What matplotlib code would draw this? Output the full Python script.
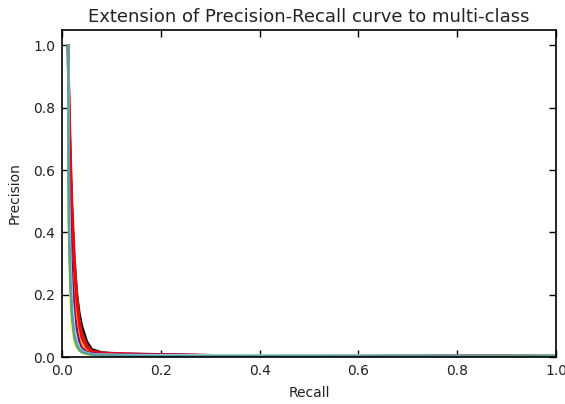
import matplotlib
matplotlib.use("Agg")
import matplotlib.pyplot as plt

# shared recall grid
recall = [0.012, 0.014, 0.017, 0.02, 0.025, 0.03, 0.035, 0.04, 0.05,
          0.06, 0.08, 0.12, 0.2, 0.35, 0.6, 1.0]

# precision per class, same length as recall
precision = {
    'yellow':   [1.0, 0.35, 0.18, 0.10, 0.05, 0.03, 0.02, 0.015, 0.010, 0.008, 0.006, 0.005, 0.004, 0.004, 0.003, 0.003],
    'lime':     [1.0, 0.45, 0.25, 0.14, 0.07, 0.04, 0.025, 0.018, 0.012, 0.009, 0.007, 0.005, 0.004, 0.004, 0.003, 0.003],
    'gray':     [1.0, 0.50, 0.28, 0.17, 0.08, 0.045, 0.03, 0.02, 0.013, 0.01, 0.008, 0.006, 0.005, 0.004, 0.003, 0.003],
    'magenta':  [1.0, 0.60, 0.38, 0.25, 0.13, 0.07, 0.04, 0.025, 0.015, 0.012, 0.01, 0.008, 0.007, 0.005, 0.004, 0.003],
    'blue':     [1.0, 0.55, 0.35, 0.22, 0.12, 0.06, 0.035, 0.022, 0.014, 0.01, 0.008, 0.006, 0.005, 0.004, 0.003, 0.003],
    'pink':     [1.0, 0.70, 0.50, 0.35, 0.20, 0.11, 0.06, 0.035, 0.02, 0.014, 0.01, 0.008, 0.006, 0.005, 0.004, 0.003],
    'orange':   [1.0, 0.75, 0.55, 0.40, 0.22, 0.12, 0.07, 0.04, 0.022, 0.015, 0.011, 0.008, 0.006, 0.005, 0.004, 0.003],
    'black':    [1.0, 0.80, 0.60, 0.45, 0.30, 0.20, 0.14, 0.10, 0.05, 0.025, 0.015, 0.01, 0.007, 0.005, 0.004, 0.003],
    'brown':    [1.0, 0.85, 0.65, 0.50, 0.32, 0.20, 0.12, 0.08, 0.04, 0.02, 0.014, 0.012, 0.009, 0.005, 0.004, 0.003],
    'red':      [1.0, 0.82, 0.62, 0.47, 0.28, 0.17, 0.10, 0.06, 0.03, 0.018, 0.013, 0.011, 0.008, 0.005, 0.004, 0.003],
    'purple':   [1.0, 0.60, 0.40, 0.27, 0.14, 0.08, 0.045, 0.028, 0.016, 0.012, 0.01, 0.009, 0.008, 0.005, 0.004, 0.003],
    'mediumseagreen': [1.0, 0.40, 0.22, 0.13, 0.06, 0.035, 0.022, 0.016, 0.011, 0.009, 0.007, 0.006, 0.005, 0.005, 0.004, 0.004],
    'paleturquoise':  [1.0, 0.50, 0.30, 0.18, 0.09, 0.05, 0.03, 0.02, 0.013, 0.01, 0.008, 0.007, 0.006, 0.006, 0.005, 0.002],
    'cadetblue':      [1.0, 0.42, 0.24, 0.14, 0.07, 0.04, 0.025, 0.017, 0.012, 0.009, 0.007, 0.005, 0.004, 0.004, 0.003, 0.003],
}

fig = plt.figure(figsize=(5.65, 4.04), dpi=100)
ax = fig.add_axes([0.110, 0.116, 0.874, 0.810])

for color, prec in precision.items():
    ax.plot(recall, prec, color=color, lw=1.8)

ax.set_xlim(0.0, 1.0)
ax.set_ylim(0.0, 1.05)
ax.set_xticks([0.0, 0.2, 0.4, 0.6, 0.8, 1.0])
ax.set_yticks([0.0, 0.2, 0.4, 0.6, 0.8, 1.0])
ax.tick_params(direction='in', top=True, right=True, length=5, width=1,
               labelsize=10, pad=5, labelcolor='#222222')
for s in ax.spines.values():
    s.set_linewidth(1.2)

ax.set_xlabel('Recall', fontsize=10, labelpad=6, color='#222222')
ax.set_ylabel('Precision', fontsize=10, labelpad=8, color='#222222')
ax.set_title('Extension of Precision-Recall curve to multi-class', fontsize=13, pad=6,
             color='#222222')

fig.savefig('out.png', dpi=100)
